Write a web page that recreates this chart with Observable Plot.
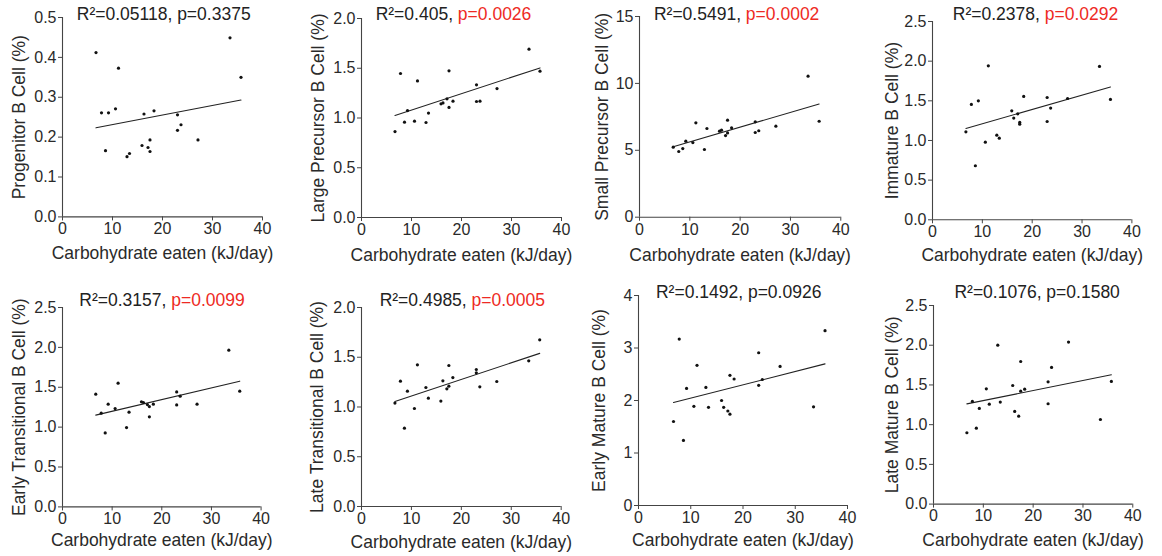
<!DOCTYPE html>
<html><head><meta charset="utf-8">
<script src="https://cdn.jsdelivr.net/npm/d3@7"></script>
<script src="https://cdn.jsdelivr.net/npm/@observablehq/plot@0.6"></script>
<style>
body{margin:0;background:#fff;}
#wrap{position:relative;width:1162px;height:556px;overflow:hidden;font-family:"Liberation Sans",Arial,sans-serif;background:#fff;}
.panel{position:absolute;}
.panel svg{overflow:visible;}
.title{position:absolute;font-size:17.5px;color:#222;white-space:nowrap;transform:translateX(-50%);line-height:1;}
.sig{color:#ee2a24;}
</style></head><body><div id="wrap"></div>
<script>
// Shared x values: carbohydrate eaten (kJ/day)
const carbs = [6.7, 7.8, 8.6, 9.2, 10.6, 11.2, 12.9, 13.4, 15.9, 16.3, 17.1, 17.5, 17.5, 18.3, 23.0, 23.0, 23.7, 27.1, 33.5, 35.7];
const xLabel = "Carbohydrate eaten (kJ/day)";
const xTicks = [0, 10, 20, 30, 40];

// Per-panel y values (%)
const progenitor = [0.412, 0.261, 0.166, 0.261, 0.271, 0.373, 0.151, 0.159, 0.179, 0.258, 0.174, 0.193, 0.164, 0.266, 0.256, 0.217, 0.231, 0.193, 0.449, 0.350];
const largePrecursor = [0.864, 1.447, 0.958, 1.075, 0.968, 1.373, 0.955, 1.049, 1.142, 1.152, 1.193, 1.474, 1.106, 1.169, 1.333, 1.166, 1.169, 1.296, 1.692, 1.471];
const smallPrecursor = [5.23, 4.91, 5.13, 5.68, 5.58, 7.05, 5.06, 6.63, 6.43, 6.50, 6.10, 7.25, 6.30, 6.68, 7.13, 6.33, 6.46, 6.80, 10.54, 7.17];
const immature = [1.109, 1.454, 0.681, 1.500, 0.979, 1.941, 1.067, 1.029, 1.374, 1.282, 1.336, 1.227, 1.206, 1.555, 1.542, 1.239, 1.408, 1.529, 1.933, 1.517];
const earlyTransitional = [1.413, 1.175, 0.928, 1.288, 1.233, 1.551, 0.995, 1.187, 1.317, 1.309, 1.283, 1.129, 1.258, 1.288, 1.442, 1.279, 1.388, 1.288, 1.965, 1.451];
const lateTransitional = [1.039, 1.260, 0.787, 1.159, 0.985, 1.424, 1.196, 1.089, 1.059, 1.263, 1.183, 1.417, 1.209, 1.296, 1.377, 1.343, 1.203, 1.256, 1.464, 1.675];
const earlyMature = [1.60, 3.17, 1.24, 2.23, 1.89, 2.67, 2.25, 1.87, 2.00, 1.87, 1.80, 2.48, 1.74, 2.41, 2.91, 2.29, 2.40, 2.65, 1.88, 3.33];
const lateMature = [0.898, 1.292, 0.956, 1.204, 1.451, 1.258, 2.001, 1.284, 1.493, 1.166, 1.107, 1.795, 1.422, 1.447, 1.539, 1.263, 1.720, 2.039, 1.065, 1.544];

const yLabels = ["Progenitor B Cell (%)", "Large Precursor B Cell (%)", "Small Precursor B Cell (%)", "Immature B Cell (%)",
  "Early Transitional B Cell (%)", "Late Transitional B Cell (%)", "Early Mature B Cell (%)", "Late Mature B Cell (%)"];
const seriesValues = [progenitor, largePrecursor, smallPrecursor, immature, earlyTransitional, lateTransitional, earlyMature, lateMature];
const yTickSets = [
  [0, 0.1, 0.2, 0.3, 0.4, 0.5],
  [0, 0.5, 1.0, 1.5, 2.0],
  [0, 5, 10, 15],
  [0, 0.5, 1.0, 1.5, 2.0, 2.5],
  [0, 0.5, 1.0, 1.5, 2.0, 2.5],
  [0, 0.5, 1.0, 1.5, 2.0],
  [0, 1, 2, 3, 4],
  [0, 0.5, 1.0, 1.5, 2.0, 2.5]
];
const yTickFormats = [".1f", ".1f", "d", ".1f", ".1f", ".1f", "d", ".1f"];
const r2Labels = ["0.05118", "0.405", "0.5491", "0.2378", "0.3157", "0.4985", "0.1492", "0.1076"];
const pLabels = ["0.3375", "0.0026", "0.0002", "0.0292", "0.0099", "0.0005", "0.0926", "0.1580"];
const significant = [false, true, true, true, true, true, false, false];

// Layout (frame position in page pixels)
const layout = [
  {left: 61.7, top: 17.3, w: 200, h: 199.4, ylDx: -43.5, xlDy: 36.5, tDx: 2, tBase: 20.7},
  {left: 361, top: 18.3, w: 200, h: 199, ylDx: -43, xlDy: 37.5, tDx: -7.5, tBase: 20.7},
  {left: 639, top: 16, w: 201.3, h: 200.7, ylDx: -37.5, xlDy: 38, tDx: -3, tBase: 20.7},
  {left: 932.3, top: 20.7, w: 199.4, h: 198.3, ylDx: -40.6, xlDy: 36, tDx: 3.5, tBase: 20.7},
  {left: 61.7, top: 307.3, w: 198.6, h: 199.4, ylDx: -43.4, xlDy: 33.5, tDx: 1, tBase: 306.3},
  {left: 361, top: 306.7, w: 199.7, h: 199, ylDx: -43.7, xlDy: 35.5, tDx: 1.5, tBase: 306.3},
  {left: 637.7, top: 294.7, w: 209, h: 210, ylDx: -39.4, xlDy: 35, tDx: -3.5, tBase: 299},
  {left: 933, top: 304.7, w: 199.3, h: 198.6, ylDx: -41.3, xlDy: 36.4, tDx: 4.5, tBase: 299}
];

const wrap = document.getElementById("wrap");
const M = {left: 60, right: 16, top: 8, bottom: 50};

seriesValues.forEach((vals, i) => {
  const L = layout[i];
  const data = carbs.map((c, j) => ({x: c, y: vals[j]}));
  const ticks = yTickSets[i];
  const yMax = ticks[ticks.length - 1];
  const chart = Plot.plot({
    width: M.left + L.w + M.right,
    height: M.top + L.h + M.bottom,
    marginLeft: M.left, marginRight: M.right, marginTop: M.top, marginBottom: M.bottom,
    style: {fontFamily: "'Liberation Sans', Arial, sans-serif", fontSize: "16px", color: "#2a2a2a", background: "transparent", overflow: "visible"},
    x: {domain: [0, 40]},
    y: {domain: [0, yMax]},
    marks: [
      Plot.ruleX([0], {stroke: "#444", strokeWidth: 1.1}),
      Plot.ruleY([0], {stroke: "#444", strokeWidth: 1.1}),
      Plot.axisX({ticks: xTicks, tickFormat: "d", tickSize: 4, tickPadding: 2, label: null, stroke: "#444", fontSize: 16}),
      Plot.axisY({ticks: ticks, tickFormat: yTickFormats[i], tickSize: 4, tickPadding: 2, label: null, stroke: "#444", fontSize: 16}),
      Plot.linearRegressionY(data, {x: "x", y: "y", ci: 0, stroke: "#222", strokeWidth: 1.1}),
      Plot.dot(data, {x: "x", y: "y", r: 1.6, fill: "#111", stroke: "none"}),
      Plot.text([xLabel], {frameAnchor: "bottom", dy: L.xlDy, textAnchor: "middle", lineAnchor: "middle", fontSize: 17.5, fill: "#2a2a2a"}),
      Plot.text([yLabels[i]], {frameAnchor: "left", dx: L.ylDx, rotate: -90, textAnchor: "middle", lineAnchor: "middle", fontSize: 17.5, fill: "#2a2a2a"})
    ]
  });
  const box = document.createElement("div");
  box.className = "panel";
  box.style.left = (L.left - M.left) + "px";
  box.style.top = (L.top - M.top) + "px";
  box.appendChild(chart);
  wrap.appendChild(box);

  const t = document.createElement("div");
  t.className = "title";
  t.style.left = (L.left + L.w / 2 + L.tDx) + "px";
  t.style.top = (L.tBase - 14.8) + "px";
  const a = document.createElement("span");
  a.textContent = "R\u00b2=" + r2Labels[i] + ", ";
  const b = document.createElement("span");
  b.textContent = "p=" + pLabels[i];
  if (significant[i]) b.className = "sig";
  t.appendChild(a); t.appendChild(b);
  wrap.appendChild(t);
});
</script>
</body></html>
